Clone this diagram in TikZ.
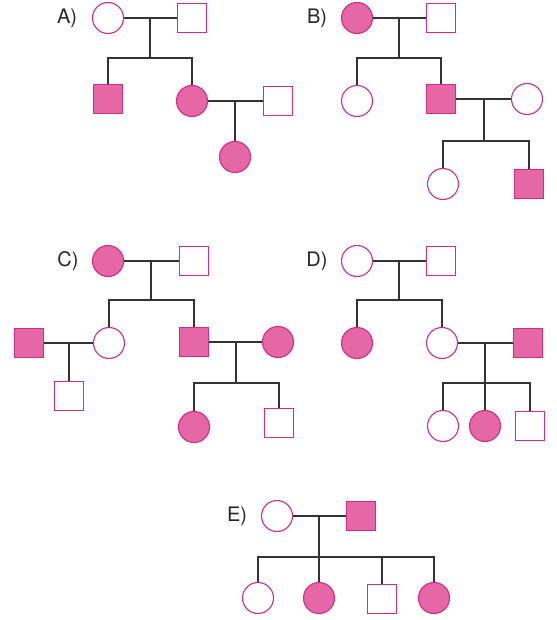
\documentclass[tikz,border=0pt]{standalone}
\usepackage{fontspec}
\setmainfont{TeX Gyre Heros}
\usepackage{xcolor}
\definecolor{affcol}{HTML}{E667A6}
\definecolor{rimcol}{HTML}{D62A83}
\definecolor{linkcol}{HTML}{333333}
\usetikzlibrary{calc}

\begin{document}
\begin{tikzpicture}[x=1pt,y=-1pt,
    fem/.style={circle,draw=rimcol,line width=1.1pt,fill=white,minimum size=31pt,inner sep=0pt},
    mal/.style={rectangle,draw=rimcol,line width=1.1pt,fill=white,minimum size=28.5pt,inner sep=0pt},
    aff/.style={fill=affcol},
    link/.style={draw=linkcol,line width=1.2pt},
    tag/.style={font=\fontsize{20}{23}\selectfont,text=black!85}]
  \useasboundingbox (0,0) rectangle (556,620);
  % ---------- A panel ---------------------------------------------
  \begin{scope}[shift={(108,18)}]
    \node[tag] (Atag) at (-41,0) {A)};
    \node[fem] (a1) at (0,0) {};
    \node[mal] (a2) at (84,0) {};
    \node[mal,aff] (a3) at (0,81) {};
    \node[fem,aff] (a4) at (84,83) {};
    \node[mal] (a5) at (170,83) {};
    \node[fem,aff] (a6) at (127,139) {};
    \draw[link] (a1) -- (a2);
    \draw[link] ($(a1)!0.5!(a2)$) -- ++(0,40) coordinate (asib);
    \draw[link] (a3) |- (asib) -| (a4);
    \draw[link] (a4) -- (a5);
    \draw[link] ($(a4)!0.5!(a5)$) -- (a6);
  \end{scope}
  % ---------- B panel ---------------------------------------------
  \begin{scope}[shift={(357,18)}]
    \node[tag] (Btag) at (-40,0) {B)};
    \node[fem,aff] (b1) at (0,0) {};
    \node[mal] (b2) at (84,0) {};
    \node[fem] (b3) at (0,83) {};
    \node[mal,aff] (b4) at (84,81) {};
    \node[fem] (b5) at (170,81) {};
    \node[fem] (b6) at (86,166) {};
    \node[mal,aff] (b7) at (172,166) {};
    \draw[link] (b1) -- (b2);
    \draw[link] ($(b1)!0.5!(b2)$) -- ++(0,40) coordinate (bsib);
    \draw[link] (b3) |- (bsib) -| (b4);
    \draw[link] (b4) -- (b5);
    \draw[link] ($(b4)!0.5!(b5)$) -- ++(0,42) coordinate (bsib2);
    \draw[link] (b6) |- (bsib2) -| (b7);
  \end{scope}
  % ---------- C panel ---------------------------------------------
  \begin{scope}[shift={(108,261)}]
    \node[tag] (Ctag) at (-40,0) {C)};
    \node[fem,aff] (c1) at (0,0) {};
    \node[mal] (c2) at (86,0) {};
    \node[fem] (c3) at (1,82) {};
    \node[mal,aff] (c4) at (86,81) {};
    \node[mal,aff] (c5) at (-79,82) {};
    \node[mal] (c6) at (-39,135) {};
    \node[fem,aff] (c7) at (170,81) {};
    \node[fem,aff] (c8) at (86,166) {};
    \node[mal] (c9) at (171,162) {};
    \draw[link] (c1) -- (c2);
    \draw[link] ($(c1)!0.5!(c2)$) -- ++(0,39) coordinate (csib);
    \draw[link] (c3) |- (csib) -| (c4);
    \draw[link] (c5) -- (c3);
    \draw[link] ($(c5)!0.5!(c3)$) -- (c6);
    \draw[link] (c4) -- (c7);
    \draw[link] ($(c4)!0.5!(c7)$) -- ++(0,41) coordinate (csib2);
    \draw[link] (c8) |- (csib2) -| (c9);
  \end{scope}
  % ---------- D panel ---------------------------------------------
  \begin{scope}[shift={(357,261)}]
    \node[tag] (Dtag) at (-40,0) {D)};
    \node[fem] (d1) at (0,0) {};
    \node[mal] (d2) at (84,0) {};
    \node[fem,aff] (d3) at (0,82) {};
    \node[fem] (d4) at (85,82) {};
    \node[mal,aff] (d5) at (171,82) {};
    \node[fem] (d6) at (86,165) {};
    \node[fem,aff] (d7) at (128,165) {};
    \node[mal] (d8) at (173,165) {};
    \draw[link] (d1) -- (d2);
    \draw[link] ($(d1)!0.5!(d2)$) -- ++(0,39) coordinate (dsib);
    \draw[link] (d3) |- (dsib) -| (d4);
    \draw[link] (d4) -- (d5);
    \draw[link] ($(d4)!0.5!(d5)$) -- ++(0,40) coordinate (dsib2);
    \draw[link] (d6) |- (dsib2) -| (d8);
    \draw[link] (dsib2) -- (d7);
  \end{scope}
  % ---------- E panel ---------------------------------------------
  \begin{scope}[shift={(277,516)}]
    \node[tag] (Etag) at (-40,0) {E)};
    \node[fem] (e1) at (0,0) {};
    \node[mal,aff] (e2) at (84,0) {};
    \node[fem] (e3) at (-19,82) {};
    \node[fem,aff] (e4) at (42,82) {};
    \node[mal] (e5) at (105,83) {};
    \node[fem,aff] (e6) at (157,82) {};
    \draw[link] (e1) -- (e2);
    \draw[link] ($(e1)!0.5!(e2)$) -- ++(0,41) coordinate (esib);
    \draw[link] (e3) |- (esib) -| (e6);
    \draw[link] (esib) -- (e4);
    \draw[link] (e5 |- esib) -- (e5);
  \end{scope}
\end{tikzpicture}
\end{document}
